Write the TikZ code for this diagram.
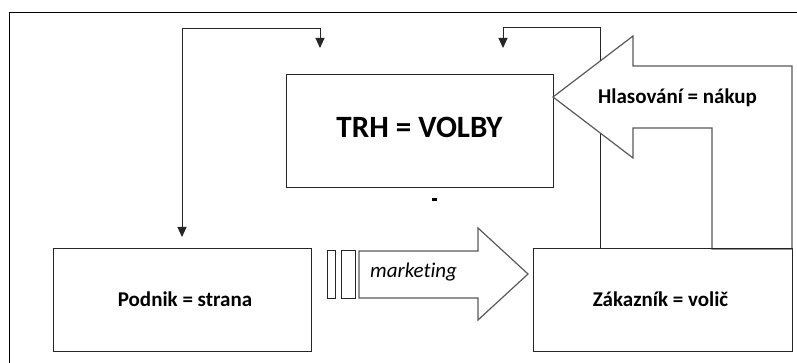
\documentclass[tikz,border=0pt]{standalone}
\usepackage{fontspec}
\setmainfont{Carlito}[Ligatures=NoCommon]
\usetikzlibrary{arrows.meta}
\begin{document}
\begin{tikzpicture}[x=1pt,y=-1pt,
  box/.style={draw=black!85, line width=1pt, fill=white, inner sep=0pt},
  lbl/.style={font=\bfseries\fontsize{21}{21}\selectfont, text height=13.4pt, text depth=0pt, inner sep=0pt},
  conn/.style={draw=black!85, line width=1pt},
  tipb/.style={-{Triangle[length=10pt,width=9pt]}},
  fatarrow/.style={draw=black!65, line width=1.2pt, fill=white, line join=miter}]
\useasboundingbox (0,0) rectangle (797,363);
% frame
\draw[line width=1pt] (9,363) -- (9,13) -- (797,13);
% boxes
\node[box, minimum width=267pt, minimum height=113pt,
      font=\bfseries\fontsize{31}{31}\selectfont, text height=19.8pt, text depth=8pt]
      (trh) at (419.5,131.5) {TRH = VOLBY};
\node[box, minimum width=258pt, minimum height=102pt] (podnik) at (182,300) {};
\node[lbl] (podniktxt) at (185,299.5) {Podnik = strana};
\node[box, minimum width=259pt, minimum height=102pt] (zak) at (662.5,300) {};
\node[lbl] (zaktxt) at (660.5,299.5) {Zákazník = volič};
\node[fill=black, minimum width=5pt, minimum height=3pt, inner sep=0pt] (dot) at (434,199.5) {};
% connectors
\coordinate (a1) at (320,48);
\coordinate (a2) at (182,237);
\draw[conn, {Triangle[length=10pt,width=9pt]}-{Triangle[length=10pt,width=9pt]}] (a1) -- (320,29) -| (a2);
\coordinate (r0) at (600,249);
\coordinate (r1) at (503,48);
\draw[conn, tipb] (r0) -- (600,28) -| (r1);
% bent arrow Hlasovani
\draw[fatarrow] (553,97) -- (633,36) -- (633,66) -- (792,66) -- (792,249)
   -- (712,249) -- (712,128) -- (633,128) -- (633,158) -- cycle;
\node[lbl] (hlas) at (677.5,96.5) {Hlasování = nákup};
% marketing arrow
\draw[box, line width=1pt] (327,251) rectangle (335,298);
\draw[box, line width=1pt] (341,251) rectangle (355,298);
\draw[fatarrow] (359,251) -- (478,251) -- (478,228) -- (528,274) -- (478,320)
   -- (478,298) -- (359,298) -- cycle;
\node[anchor=base west, inner sep=0pt, font=\itshape\fontsize{21}{21}\selectfont] (mkt) at (370,277) {marketing};
\draw[box] (zak.north west) -- (zak.north east);
\end{tikzpicture}
\end{document}
